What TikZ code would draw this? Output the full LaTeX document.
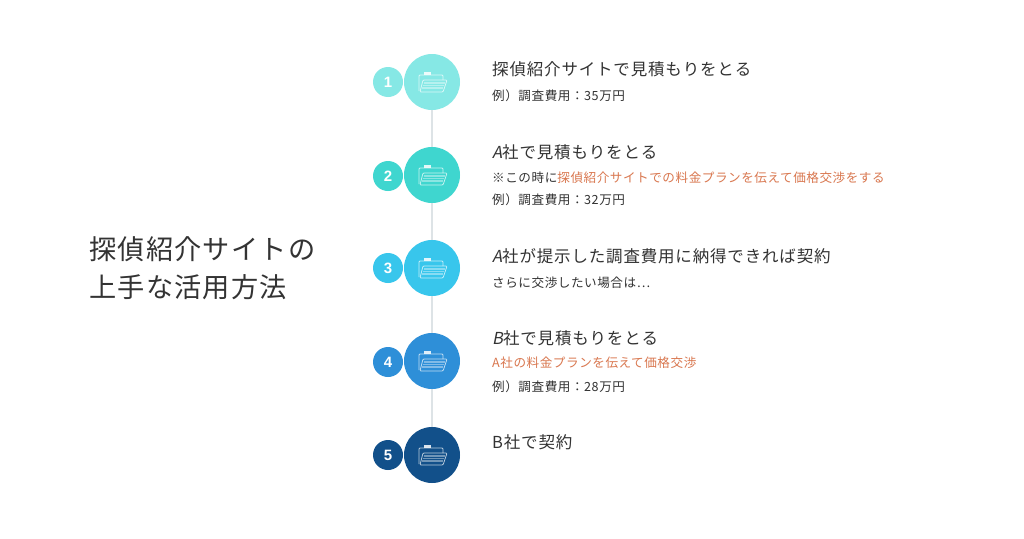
\documentclass[tikz,border=0pt]{standalone}
\usepackage{fontspec}
\setmainfont{Noto Sans CJK JP}
\newfontfamily\ttl[LetterSpace=5]{Noto Sans CJK JP}
\newfontfamily\sbt[LetterSpace=4.3]{Noto Sans CJK JP}
\newfontfamily\slt[FakeSlant=0.2,LetterSpace=5]{Noto Sans CJK JP}
\newfontfamily\hd[LetterSpace=4.5]{Noto Sans CJK JP}
\newfontfamily\num[]{Liberation Sans}
\definecolor{ink}{HTML}{333333}
\definecolor{accent}{HTML}{D9774F}
\definecolor{rail}{HTML}{DDE3E6}
\definecolor{ca}{HTML}{86E8E5}
\definecolor{cb}{HTML}{3FD6CF}
\definecolor{cc}{HTML}{38C6EC}
\definecolor{cd}{HTML}{2E8FD8}
\definecolor{ce}{HTML}{12508A}
\tikzset{
  x=1pt,y=-1pt,
  bigdot/.style={circle,minimum size=56pt,inner sep=0pt,outer sep=0pt},
  smalldot/.style={circle,minimum size=30pt,inner sep=0pt,outer sep=0pt,text=white,font=\num\bfseries\fontsize{15}{15}\selectfont},
  titletext/.style={anchor=base west,inner sep=0pt,text=ink,font=\ttl\fontsize{16.5}{17}\selectfont},
  subtext/.style={anchor=base west,inner sep=0pt,text=ink,font=\sbt\fontsize{12.6}{13}\selectfont},
  headtext/.style={anchor=base west,inner sep=0pt,text=ink,font=\hd\fontsize{27.2}{28}\selectfont},
  railline/.style={rail,line width=1.2pt},
  iconline/.style={white,line width=0.8pt,opacity=0.7,line join=round},
  folder/.pic={
    \fill[white,opacity=0.85] (-8,-10) rectangle (-1,-7);
    \draw[iconline,rounded corners=1pt] (-13,9) -- (-13,-7) -- (11,-7) -- (11,-2);
    \draw[iconline,rounded corners=1pt] (-12,10) -- (-9,-2) -- (15,-2) -- (11,10) -- cycle;
    \foreach \yy/\aa/\bb in {1/-8/13, 3.5/-9/12, 6/-10/11}{
      \draw[iconline,line width=1.2pt,opacity=0.4] (\aa,\yy) -- (\bb,\yy);
    }
  }
}
\begin{document}
\begin{tikzpicture}
\useasboundingbox (0,0) rectangle (1024,538);
\fill[white] (0,0) rectangle (1024,538);

\node[headtext] (h1) at (89,259) {探偵紹介サイトの};
\node[headtext] (h2) at (89,297) {上手な活用方法};

\node[bigdot,fill=ca] (b1) at (432,82) {};
\node[bigdot,fill=cb] (b2) at (432,175) {};
\node[bigdot,fill=cc] (b3) at (432,268) {};
\node[bigdot,fill=cd] (b4) at (432,361) {};
\node[bigdot,fill=ce] (b5) at (432,455) {};

\draw[railline] (b1) -- (b2);
\draw[railline] (b2) -- (b3);
\draw[railline] (b3) -- (b4);
\draw[railline] (b4) -- (b5);

\node[smalldot,fill=ca] (s1) at (388,82) {1};
\node[smalldot,fill=cb] (s2) at (388,176) {2};
\node[smalldot,fill=cc] (s3) at (388,268) {3};
\node[smalldot,fill=cd] (s4) at (388,362) {4};
\node[smalldot,fill=ce] (s5) at (388,455) {5};

\foreach \yy in {82,175,268,361,455}{
  \pic at (432,\yy) {folder};
}

\node[titletext] (t1) at (492,75) {探偵紹介サイトで見積もりをとる};
\node[subtext] (d1) at (492,100) {例）調査費用：35万円};

\node[titletext] (t2) at (492,158) {{\slt A}社で見積もりをとる};
\node[subtext] (d2) at (492,182) {※この時に\textcolor{accent}{探偵紹介サイトでの料金プランを伝えて価格交渉をする}};
\node[subtext] (e2) at (492,204) {例）調査費用：32万円};

\node[titletext] (t3) at (492,262) {{\slt A}社が提示した調査費用に納得できれば契約};
\node[subtext] (d3) at (492,287) {さらに交渉したい場合は…};

\node[titletext] (t4) at (492,344) {{\slt B}社で見積もりをとる};
\node[subtext,text=accent] (d4) at (492,367) {A社の料金プランを伝えて価格交渉};
\node[subtext] (e4) at (492,391) {例）調査費用：28万円};

\node[titletext] (t5) at (492,448) {B社で契約};
\end{tikzpicture}
\end{document}
